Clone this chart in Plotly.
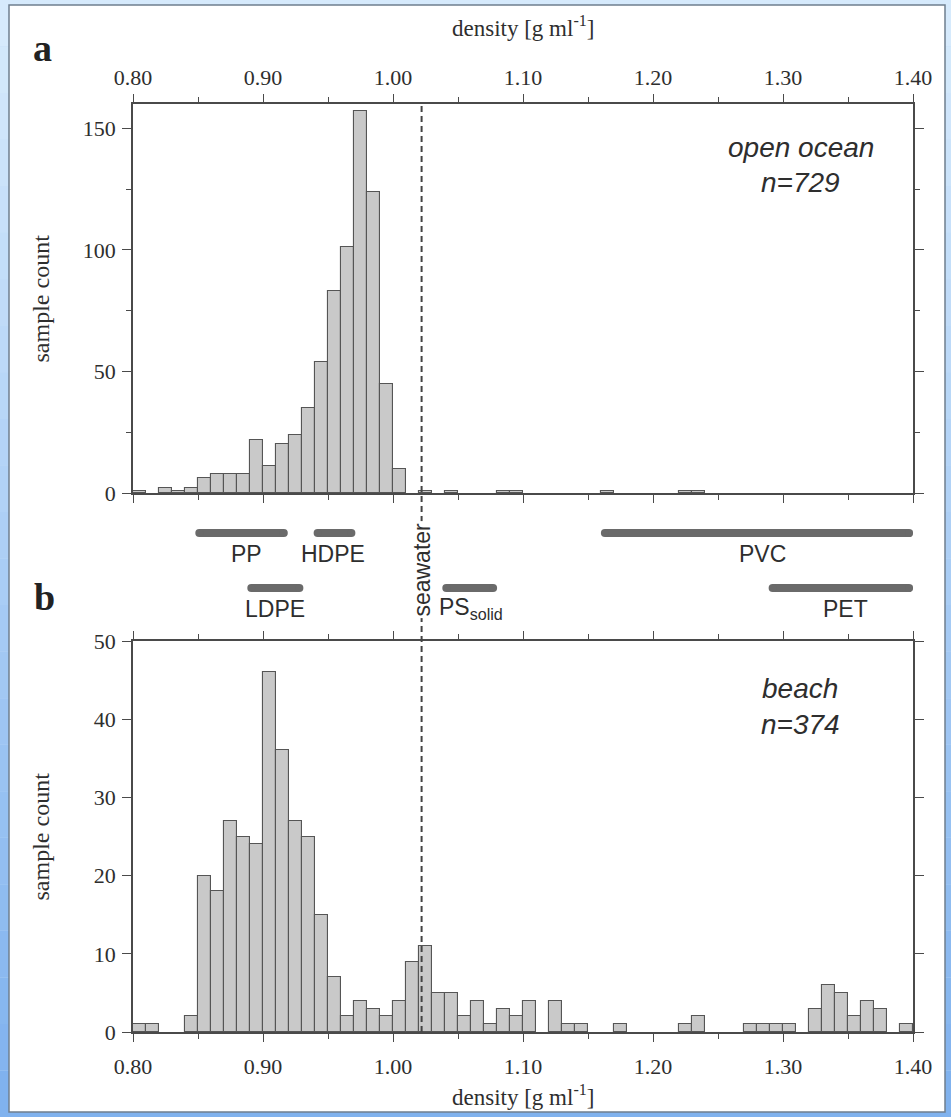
import plotly.graph_objects as go

# ---------------- data ----------------
# histogram bins are 0.01 g/ml wide; values are bin lower edges
ocean_bins = [0.80, 0.82, 0.83, 0.84, 0.85, 0.86, 0.87, 0.88, 0.89, 0.90,
              0.91, 0.92, 0.93, 0.94, 0.95, 0.96, 0.97, 0.98, 0.99, 1.00,
              1.02, 1.04, 1.08, 1.09, 1.16, 1.22, 1.23]
ocean_counts = [1, 2, 1, 2, 6, 8, 8, 8, 22, 11,
                20, 24, 35, 54, 83, 101, 157, 124, 45, 10,
                1, 1, 1, 1, 1, 1, 1]

beach_bins = [0.80, 0.81, 0.84, 0.85, 0.86, 0.87, 0.88, 0.89, 0.90, 0.91,
              0.92, 0.93, 0.94, 0.95, 0.96, 0.97, 0.98, 0.99, 1.00, 1.01,
              1.02, 1.03, 1.04, 1.05, 1.06, 1.07, 1.08, 1.09, 1.10, 1.12,
              1.13, 1.14, 1.17, 1.22, 1.23, 1.27, 1.28, 1.29, 1.30, 1.32,
              1.33, 1.34, 1.35, 1.36, 1.37, 1.39]
beach_counts = [1, 1, 2, 20, 18, 27, 25, 24, 46, 36,
                27, 25, 15, 7, 2, 4, 3, 2, 4, 9,
                11, 5, 5, 2, 4, 1, 3, 2, 4, 4,
                1, 1, 1, 1, 2, 1, 1, 1, 1, 3,
                6, 5, 2, 4, 3, 1]
bin_width = 0.01

# polymer density ranges (g/ml): row 1 = upper, 0 = lower
polymers = ["PP", "HDPE", "PVC", "LDPE", "PS<sub>solid</sub>", "PET"]
poly_start = [0.851, 0.942, 1.163, 0.891, 1.041, 1.292]
poly_end = [0.916, 0.968, 1.397, 0.928, 1.077, 1.397]
poly_row = [1, 1, 1, 0, 0, 0]
poly_label_x = [0.887, 0.954, 1.284, 0.909, 1.060, 1.348]

seawater_density = 1.022
x_ticks = [0.80, 0.90, 1.00, 1.10, 1.20, 1.30, 1.40]
x_ticklabels = ["0.80", "0.90", "1.00", "1.10", "1.20", "1.30", "1.40"]

# ---------------- layout helpers (pixels) ----------------
W, H = 951, 1117
def py(p):
    return 1 - p / H
def px(p):
    return p / W

X_DOM = [px(133), px(913)]
TOP_DOM = [py(493), py(104)]
BOT_DOM = [py(1032), py(641)]
MID_DOM = [py(635), py(500)]

AX = "#4a4a4a"
TXT = "#2e2e2e"
SERIF = "Liberation Serif, Times New Roman, serif"
SANS = "Liberation Sans, Arial, sans-serif"

fig = go.Figure()

fig.add_trace(go.Bar(x=ocean_bins, y=ocean_counts, width=bin_width, offset=0,
                     marker=dict(color="#c9c9c9", line=dict(color="#555555", width=1.1)),
                     xaxis="x", yaxis="y", showlegend=False, hoverinfo="skip"))
fig.add_trace(go.Bar(x=beach_bins, y=beach_counts, width=bin_width, offset=0,
                     marker=dict(color="#c9c9c9", line=dict(color="#555555", width=1.1)),
                     xaxis="x2", yaxis="y2", showlegend=False, hoverinfo="skip"))

for s, e, r in zip(poly_start, poly_end, poly_row):
    fig.add_trace(go.Scatter(x=[s, e], y=[r, r], mode="lines+markers",
                             line=dict(color="#6a6a6a", width=8),
                             marker=dict(color="#6a6a6a", size=8),
                             xaxis="x3", yaxis="y3", showlegend=False, hoverinfo="skip"))

def xaxis_common(side, anchor, standoff):
    return dict(domain=X_DOM, range=[0.80, 1.40], side=side, anchor=anchor,
                showline=True, linecolor=AX, linewidth=1.6, mirror="ticks",
                ticks="outside", ticklen=8, tickwidth=1.4, tickcolor=AX,
                tickvals=x_ticks, ticktext=x_ticklabels, ticklabelstandoff=standoff,
                tickfont=dict(family=SERIF, size=22, color=TXT),
                minor=dict(dtick=0.05, tick0=0.80, ticks="outside", ticklen=5,
                           tickwidth=1.4, tickcolor=AX, showgrid=False),
                showgrid=False, zeroline=False, automargin=False, fixedrange=True)

def yaxis_common(domain, rng, dtick, minor, anchor):
    d = dict(domain=domain, range=rng, anchor=anchor, side="left",
             showline=True, linecolor=AX, linewidth=1.6, mirror="ticks",
             ticks="outside", ticklen=9, tickwidth=1.4, tickcolor=AX,
             dtick=dtick, tick0=0, ticklabelstandoff=2,
             tickfont=dict(family=SERIF, size=22, color=TXT),
             showgrid=False, zeroline=False, automargin=False, fixedrange=True)
    if minor:
        d["minor"] = dict(dtick=minor, ticks="outside", ticklen=5, tickwidth=1.4,
                          tickcolor=AX, showgrid=False)
    return d

shapes = []
# blue gradient background bands
top_c = (214, 234, 252)
bot_c = (128, 178, 238)
n_b = 24
for i in range(n_b):
    t = i / (n_b - 1)
    c = tuple(int(round(top_c[k] + (bot_c[k] - top_c[k]) * t)) for k in range(3))
    shapes.append(dict(type="rect", xref="paper", yref="paper", x0=0, x1=1,
                       y0=1 - (i + 1) / n_b, y1=1 - i / n_b, layer="below",
                       fillcolor="rgb(%d,%d,%d)" % c, line=dict(width=0)))
# white panel
shapes.append(dict(type="rect", xref="paper", yref="paper",
                   x0=px(9), x1=px(945), y0=py(1112), y1=py(5), layer="below",
                   fillcolor="white", line=dict(color="#6f7f8f", width=1.5)))
# seawater dashed line
shapes.append(dict(type="line", xref="x", yref="paper",
                   x0=seawater_density, x1=seawater_density,
                   y0=BOT_DOM[0], y1=TOP_DOM[1], layer="above",
                   line=dict(color="#444444", width=2, dash="6px,4px")))

def ann(text, x, y, size, family, xref="paper", yref="paper", **kw):
    d = dict(text=text, x=x, y=y, xref=xref, yref=yref, showarrow=False,
             xanchor="center", yanchor="middle",
             font=dict(family=family, size=size, color=kw.pop("color", TXT)))
    d.update(kw)
    return d

annotations = [
    ann("<b>a</b>", px(42), py(48), 38, SERIF, color="#222"),
    ann("<b>b</b>", px(44), py(597), 38, SERIF, color="#222"),
    ann("density [g ml<sup>-1</sup>]", (X_DOM[0] + X_DOM[1]) / 2, py(26), 23, SERIF),
    ann("density [g ml<sup>-1</sup>]", (X_DOM[0] + X_DOM[1]) / 2, py(1095), 23, SERIF),
    ann("sample count", px(40), (TOP_DOM[0] + TOP_DOM[1]) / 2, 24, SERIF, textangle=-90),
    ann("sample count", px(40), (BOT_DOM[0] + BOT_DOM[1]) / 2, 24, SERIF, textangle=-90),
    ann("<i>open ocean</i>", px(801), py(148), 28, SANS),
    ann("<i>n=729</i>", px(800), py(183), 28, SANS),
    ann("<i>beach</i>", px(800), py(688), 28, SANS),
    ann("<i>n=374</i>", px(800), py(724), 28, SANS),
    ann("seawater", seawater_density, py(570), 23, SANS, xref="x3",
        textangle=-90, bgcolor="white"),
]
for name, lx, r in zip(polymers, poly_label_x, poly_row):
    annotations.append(ann(name, lx, r, 23, SANS, xref="x3", yref="y3", yshift=-21))

fig.update_layout(
    width=W, height=H,
    margin=dict(l=0, r=0, t=0, b=0, pad=0),
    paper_bgcolor="#c3ddf7", plot_bgcolor="rgba(0,0,0,0)",
    bargap=0, barmode="overlay",
    xaxis=xaxis_common("top", "y", 0),
    yaxis=yaxis_common(TOP_DOM, [0, 160], 50, 25, "x"),
    xaxis2=xaxis_common("bottom", "y2", 6),
    yaxis2=yaxis_common(BOT_DOM, [0, 50], 10, None, "x2"),
    xaxis3=dict(domain=X_DOM, range=[0.80, 1.40], anchor="y3", visible=False,
                fixedrange=True),
    yaxis3=dict(domain=MID_DOM, range=[-0.855, 1.6], anchor="x3", visible=False,
                fixedrange=True),
    shapes=shapes, annotations=annotations,
)

fig.write_html("out.html")
